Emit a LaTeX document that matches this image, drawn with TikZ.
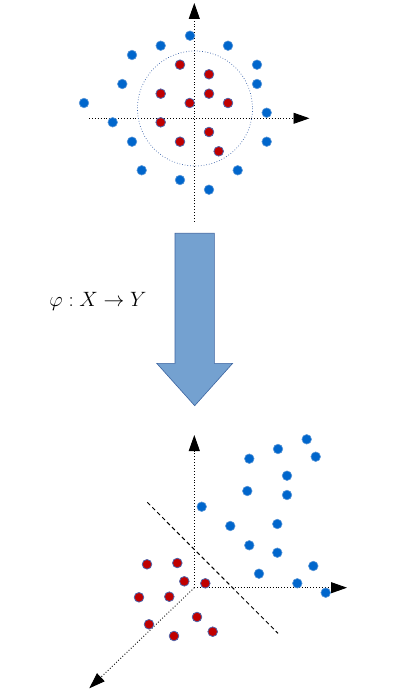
\documentclass[tikz,border=0pt]{standalone}
\usetikzlibrary{arrows.meta}
\definecolor{bluept}{RGB}{0,102,204}
\definecolor{blueedge}{RGB}{90,150,215}
\definecolor{redpt}{RGB}{192,0,0}
\definecolor{rededge}{RGB}{80,100,170}
\definecolor{arrowfill}{RGB}{116,161,208}
\definecolor{arrowedge}{RGB}{60,100,160}
\definecolor{circblue}{RGB}{60,100,170}
\tikzset{
  axis/.style={black, dotted, line width=0.9pt, -{Triangle[length=16pt,width=11pt]}},
  bpt/.style={fill=bluept, draw=blueedge, line width=0.6pt},
  rpt/.style={fill=redpt, draw=rededge, line width=0.8pt},
  sep/.style={black, dashed, line width=1pt, dash pattern=on 4pt off 3pt},
}
\begin{document}
\begin{tikzpicture}[x=1pt,y=-1pt]
\useasboundingbox (0,0) rectangle (400,700);
% ---------- top plot ----------
\coordinate (t0) at (194.3,221.7);
\coordinate (t1) at (194.3,3);
\coordinate (t2) at (89,118.3);
\coordinate (t3) at (309.5,118.3);
\draw[axis] (t0) -- (t1);
\draw[axis] (t2) -- (t3);
\draw[circblue, dotted, line width=0.7pt] (195,108.5) circle (57.5);
\foreach \p in {(190,35.7),(160.7,45.7),(228,45.7),(132,55),(257,64.7),(122.3,84),(257,84),(84,103),(266.7,112.7),(112.7,122.3),(132,141.7),(266.7,141.7),(141.7,170.3),(237.7,170.3),(180,180),(209,189.7)}
  \filldraw[bpt] \p circle (4.8);
\foreach \p in {(180,64.7),(209,74.3),(160.7,93.7),(209,93.7),(189.7,103),(228,103),(160.7,122.3),(209,132),(180,141.7),(218.7,151.3)}
  \filldraw[rpt] \p circle (4.8);
% ---------- mapping arrow ----------
\filldraw[fill=arrowfill, draw=arrowedge, line width=0.6pt]
  (175,233.3) -- (214.3,233.3) -- (214.3,363.3) -- (232.7,363.3) -- (194.7,405.7)
  -- (156.7,363.3) -- (175,363.3) -- cycle;
\node[anchor=base, inner sep=0pt, font=\fontsize{21}{25}\selectfont] (map) at (98,306) {$\varphi : X \to Y$};
% ---------- bottom plot ----------
\coordinate (o) at (194.3,587.7);
\coordinate (bz) at (194.3,435);
\coordinate (bx) at (347,587.7);
\coordinate (by) at (89.3,688.3);
\draw[axis] (o) -- (bz);
\draw[axis] (o) -- (bx);
\draw[axis] (o) -- (by);
\coordinate (s1) at (147.3,502.3);
\coordinate (s2) at (278,633.3);
\draw[sep] (s1) -- (s2);
\foreach \p in {(306.7,439.3),(278,449),(249.3,458.7),(315.7,456.7),(287,475.7),(247.3,491),(287,495),(201.7,506.7),(230.3,526),(277.3,524),(249.3,545.3),(277.3,552.7),(313.3,566),(259,573.7),(297.3,583.3),(325.7,592.7)}
  \filldraw[bpt] \p circle (4.8);
\foreach \p in {(147,564.3),(177.3,563),(184.3,581.3),(205.3,583.3),(139,597.3),(169.3,596.7),(149,624.3),(197,617),(174,636),(212.7,631.7)}
  \filldraw[rpt] \p circle (4.8);
\end{tikzpicture}
\end{document}
